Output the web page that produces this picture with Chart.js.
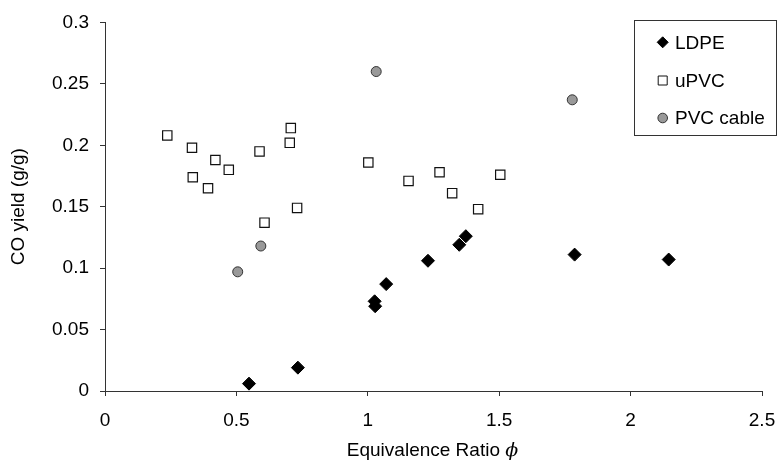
<!DOCTYPE html>
<html>
<head>
<meta charset="utf-8">
<script src="https://cdn.jsdelivr.net/npm/chart.js@4"></script>
<style>
  html, body { margin: 0; padding: 0; background: #fff; }
  #wrap { width: 777px; height: 462px; }
</style>
</head>
<body>
<div id="wrap"><canvas id="c" width="777" height="462"></canvas></div>
<script>
// ---- Data ----
const ldpeX = [0.548, 0.734, 1.026, 1.028, 1.070, 1.229, 1.348, 1.373, 1.787, 2.145];
const ldpeY = [0.006, 0.019, 0.073, 0.069, 0.087, 0.106, 0.119, 0.126, 0.111, 0.107];

const upvcX = [0.237, 0.331, 0.334, 0.392, 0.420, 0.471, 0.588, 0.607, 0.703, 0.707, 0.731, 1.002, 1.155, 1.273, 1.321, 1.420, 1.504];
const upvcY = [0.208, 0.198, 0.174, 0.165, 0.188, 0.180, 0.195, 0.137, 0.202, 0.214, 0.149, 0.186, 0.171, 0.178, 0.161, 0.148, 0.176];

const cableX = [0.505, 0.593, 1.032, 1.778];
const cableY = [0.097, 0.118, 0.260, 0.237];

const seriesNames = ['LDPE', 'uPVC', 'PVC cable'];
const xTitle = 'Equivalence Ratio ';
const xTitleSymbol = '\u03D5';
const yTitle = 'CO yield (g/g)';

const toPoints = (xs, ys) => xs.map((x, i) => ({ x: x, y: ys[i] }));

const FONT = 'Liberation Sans, Arial, sans-serif';
const FS = 19;

// custom legend box (top right) + italic axis title
const legendBox = {
  id: 'legendBox',
  afterDraw(chart) {
    const ctx = chart.ctx;
    ctx.save();
    ctx.strokeStyle = '#333';
    ctx.lineWidth = 1;
    ctx.strokeRect(634.5, 20.5, 142, 115);
    const rows = [42.3, 80.5, 118];
    chart.data.datasets.forEach((ds, i) => {
      const cx = 662.7, cy = rows[i];
      ctx.beginPath();
      ctx.fillStyle = ds.pointBackgroundColor;
      ctx.strokeStyle = ds.pointBorderColor;
      ctx.lineWidth = 1;
      if (ds.pointStyle === 'rectRot') {
        ctx.moveTo(cx - 5.5, cy); ctx.lineTo(cx, cy - 5.5); ctx.lineTo(cx + 5.5, cy); ctx.lineTo(cx, cy + 5.5);
        ctx.closePath();
      } else if (ds.pointStyle === 'rect') {
        ctx.rect(cx - 4.5, cy - 4.5, 9, 9);
      } else {
        ctx.arc(cx, cy, 4.8, 0, Math.PI * 2);
      }
      ctx.fill(); ctx.stroke();
      ctx.fillStyle = '#000';
      ctx.font = FS + 'px ' + FONT;
      ctx.textBaseline = 'middle';
      ctx.textAlign = 'left';
      ctx.fillText(ds.label, 675, cy + 1);
    });

    // x axis title with italic phi
    const area = chart.chartArea;
    ctx.font = FS + 'px ' + FONT;
    const w1 = ctx.measureText(xTitle).width;
    ctx.font = 'italic ' + FS + 'px DejaVu Serif, serif';
    const w2 = ctx.measureText(xTitleSymbol).width;
    const cxm = (area.left + area.right) / 2 - 1;
    const startX = cxm - (w1 + w2) / 2;
    ctx.textBaseline = 'alphabetic';
    ctx.textAlign = 'left';
    ctx.fillStyle = '#000';
    ctx.font = FS + 'px ' + FONT;
    ctx.fillText(xTitle, startX, 455.5);
    ctx.font = 'italic ' + FS + 'px DejaVu Serif, serif';
    ctx.fillText(xTitleSymbol, startX + w1, 455.5);
    ctx.restore();
  }
};

new Chart(document.getElementById('c'), {
  type: 'scatter',
  data: {
    datasets: [
      {
        label: seriesNames[0],
        data: toPoints(ldpeX, ldpeY),
        pointStyle: 'rectRot',
        pointRadius: 6.5,
        pointBackgroundColor: '#000',
        pointBorderColor: '#000',
        pointBorderWidth: 1
      },
      {
        label: seriesNames[1],
        data: toPoints(upvcX, upvcY),
        pointStyle: 'rect',
        pointRadius: 6.6,
        pointBackgroundColor: '#fff',
        pointBorderColor: '#111',
        pointBorderWidth: 1.2
      },
      {
        label: seriesNames[2],
        data: toPoints(cableX, cableY),
        pointStyle: 'circle',
        pointRadius: 5,
        pointBackgroundColor: '#999',
        pointBorderColor: '#333',
        pointBorderWidth: 1
      }
    ]
  },
  options: {
    responsive: false,
    animation: false,
    devicePixelRatio: 1,
    layout: { autoPadding: false, padding: { left: 0, right: 15, top: 20.7, bottom: 0 } },
    plugins: {
      legend: { display: false },
      tooltip: { enabled: false }
    },
    scales: {
      x: {
        type: 'linear',
        min: 0, max: 2.5,
        afterFit(scale) { scale.height = 71; scale.paddingLeft = 0; scale.paddingRight = 15; },
        border: { display: true, color: '#333', width: 1 },
        grid: { display: true, drawOnChartArea: false, drawTicks: true, tickLength: 5, color: '#333' },
        ticks: {
          stepSize: 0.5,
          color: '#000',
          font: { family: FONT, size: FS },
          padding: 13,
          maxRotation: 0,
          callback: v => String(Math.round(v * 10) / 10)
        },
        title: { display: false }
      },
      y: {
        type: 'linear',
        min: 0, max: 0.3,
        afterFit(scale) { scale.width = 105; },
        border: { display: true, color: '#333', width: 1 },
        grid: { display: true, drawOnChartArea: false, drawTicks: true, tickLength: 5, color: '#333' },
        ticks: {
          stepSize: 0.05,
          color: '#000',
          font: { family: FONT, size: FS },
          padding: 11,
          callback: v => String(Math.round(v * 100) / 100)
        },
        title: {
          display: true,
          text: yTitle,
          color: '#000',
          font: { family: FONT, size: FS },
          padding: { top: 7, bottom: 0 }
        }
      }
    }
  },
  plugins: [legendBox]
});
</script>
</body>
</html>
